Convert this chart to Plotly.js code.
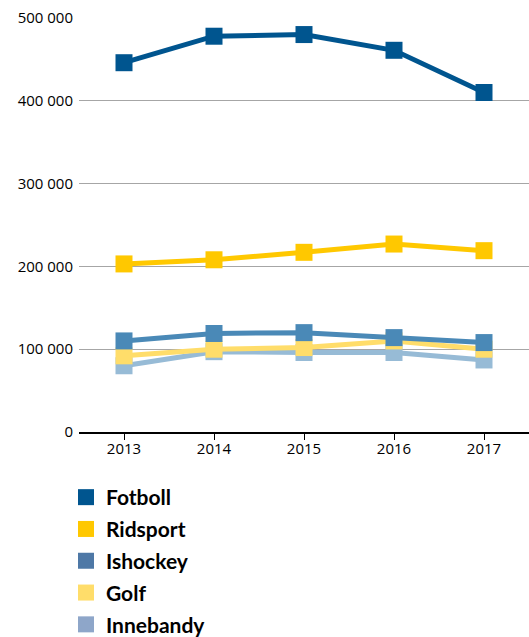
<!DOCTYPE html>
<html>
<head>
<meta charset="utf-8">
<script src="https://cdn.plot.ly/plotly-3.0.1.min.js"></script>
<style>html,body{margin:0;padding:0;background:#fff;}#chart{width:529px;height:637px;}</style>
</head>
<body>
<div id="chart"></div>
<script>
const years = ['2013', '2014', '2015', '2016', '2017'];
const fotboll = [446000, 478000, 480000, 461000, 410000];
const ridsport = [203000, 208000, 217000, 227000, 219000];
const ishockey = [110000, 119000, 120000, 114000, 108000];
const golf = [92000, 100000, 102000, 110000, 100000];
const innebandy = [80000, 97000, 96000, 96000, 87000];
const yTicks = [0, 100000, 200000, 300000, 400000, 500000];
const yTickText = ['0', '100 000', '200 000', '300 000', '400 000', '500 000'];

const series = [
  {name: 'Innebandy', y: innebandy, color: '#97BBD6', legendColor: '#8EA6C9', order: 5},
  {name: 'Golf', y: golf, color: '#FFDD6A', legendColor: '#FFDD6A', order: 4},
  {name: 'Ishockey', y: ishockey, color: '#4A89B7', legendColor: '#4E78A6', order: 3},
  {name: 'Ridsport', y: ridsport, color: '#FFC800', legendColor: '#FFC800', order: 2},
  {name: 'Fotboll', y: fotboll, color: '#00558F', legendColor: '#00558F', order: 1}
];

const traces = [];
series.forEach(s => {
  traces.push({
    x: years, y: s.y, type: 'scatter', mode: 'lines+markers', name: s.name,
    line: {color: s.color, width: 5},
    marker: {symbol: 'square', size: 17, color: s.color},
    showlegend: false, hoverinfo: 'skip'
  });
});
series.slice().sort((a, b) => a.order - b.order).forEach(s => {
  traces.push({
    x: [null], y: [null], type: 'scatter', mode: 'markers', name: s.name,
    legendgroup: s.name,
    marker: {symbol: 'square', size: 17, color: s.legendColor},
    showlegend: true
  });
});

const layout = {
  width: 529, height: 637,
  margin: {l: 79, r: 0, t: 18, b: 205, autoexpand: false},
  paper_bgcolor: '#fff', plot_bgcolor: '#fff',
  font: {family: 'Open Sans, sans-serif', size: 15, color: '#000'},
  xaxis: {
    type: 'category', range: [-0.5, 4.5],
    showline: true, linecolor: '#000', linewidth: 1.5,
    ticks: 'outside', ticklen: 6, tickcolor: '#000', tickwidth: 1,
    showgrid: false, zeroline: false, automargin: false,
    tickfont: {family: 'Open Sans, sans-serif', size: 15, color: '#000'},
    ticklabelstandoff: -4
  },
  yaxis: {
    range: [0, 500000], tickvals: yTicks, ticktext: yTickText,
    showgrid: true, gridcolor: '#A6A6A6', gridwidth: 1,
    zeroline: false, showline: false, ticks: '', automargin: false,
    tickfont: {family: 'Open Sans, sans-serif', size: 15, color: '#000'},
    ticklabelstandoff: 5
  },
  showlegend: true,
  legend: {
    xref: 'container', x: 66 / 529, xanchor: 'left',
    yref: 'container', y: 1 - 477 / 637, yanchor: 'top',
    traceorder: 'grouped', tracegroupgap: 1.5,
    font: {family: 'Lato, sans-serif', size: 21, color: '#000', weight: 'bold'},
    itemwidth: 30
  }
};

Plotly.newPlot('chart', traces, layout, {displayModeBar: false, staticPlot: true});
</script>
</body>
</html>
